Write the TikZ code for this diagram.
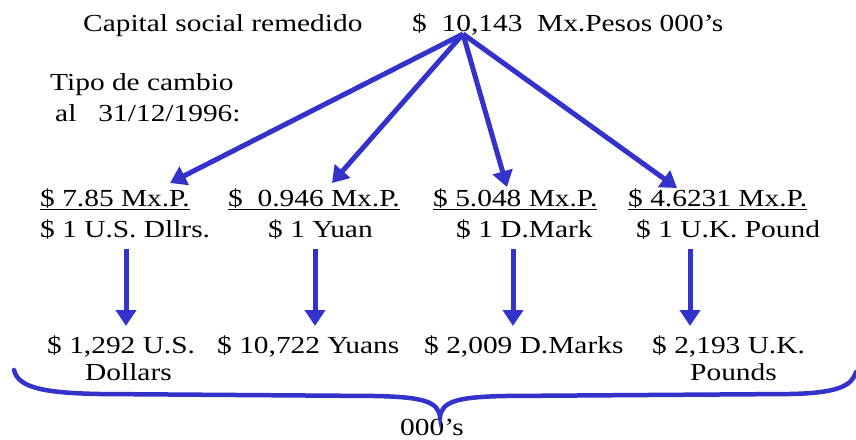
\documentclass[tikz,border=0pt]{standalone}
\usepackage{fontspec}
\setmainfont{Liberation Serif}[FakeStretch=1.2]
\usetikzlibrary{arrows.meta}
\definecolor{arrowblue}{RGB}{51,51,204}
\begin{document}
\begin{tikzpicture}[x=1pt,y=-1pt,
  txt/.style={anchor=base west, inner sep=0pt, font=\fontsize{24.5}{28}\selectfont},
  arr/.style={draw=arrowblue, line width=5pt, -{Triangle[width=20pt,length=16pt]}},
  bracestyle/.style={draw=arrowblue, line width=4.5pt, line cap=round}]
\useasboundingbox (0,0) rectangle (856,439);
% top line
\node[txt] (cap) at (83,31.5) {Capital social remedido};
\node[txt] (tot) at (412,31.5) {\$\ \ 10,143\ \ Mx.Pesos 000’s};
\node[txt] (tipo) at (50,90) {Tipo de cambio};
\node[txt] (fecha) at (55,121) {al\ \ \ 31/12/1996:};
% row 2
\node[txt] (ra) at (40,206) {\underline{\$ 7.85 Mx.P.}};
\node[txt] (rb) at (228,206) {\underline{\$\ \ 0.946 Mx.P.}};
\node[txt] (rc) at (433,206) {\underline{\$ 5.048 Mx.P.}};
\node[txt] (rd) at (628,206) {\underline{\$ 4.6231 Mx.P.}};
% row 3
\node[txt] (sa) at (40,237) {\$ 1 U.S. Dllrs.};
\node[txt] (sb) at (268,237) {\$ 1 Yuan};
\node[txt] (sc) at (456,237) {\$ 1 D.Mark};
\node[txt] (sd) at (636,237) {\$ 1 U.K. Pound};
% row 4
\node[txt] (ta) at (47,353) {\$ 1,292 U.S.};
\node[txt] (tb) at (217,353) {\$ 10,722 Yuans};
\node[txt] (tc) at (424,353) {\$ 2,009 D.Marks};
\node[txt] (td) at (652,353) {\$ 2,193 U.K.};
\node[txt] (ua) at (85,380) {Dollars};
\node[txt] (ud) at (690,380) {Pounds};
\node[txt] (unit) at (400,435) {000’s};
% connector coordinates
\coordinate (apex) at (463,34);
\coordinate (ha) at (170,183);
\coordinate (hb) at (332,183);
\coordinate (hc) at (507,187);
\coordinate (hd) at (677,188);
\coordinate (d1s) at (126,249); \coordinate (d1e) at (126,326);
\coordinate (d2s) at (315,249); \coordinate (d2e) at (315,326);
\coordinate (d3s) at (513,249); \coordinate (d3e) at (513,326);
\coordinate (d4s) at (690,249); \coordinate (d4e) at (690,326);
% arrows
\draw[arr] (apex) -- (ha);
\draw[arr] (apex) -- (hb);
\draw[arr] (apex) -- (hc);
\draw[arr] (apex) -- (hd);
\draw[arr] (d1s) -- (d1e);
\draw[arr] (d2s) -- (d2e);
\draw[arr] (d3s) -- (d3e);
\draw[arr] (d4s) -- (d4e);
% brace
\draw[bracestyle] (14,370) .. controls (18,388) and (45,393) .. (100,394)
  -- (375,396) .. controls (425,397) and (438,402) .. (440,417)
  .. controls (442,402) and (455,397) .. (505,396)
  -- (790,394) .. controls (840,393) and (852,385) .. (856,372);
\end{tikzpicture}
\end{document}
